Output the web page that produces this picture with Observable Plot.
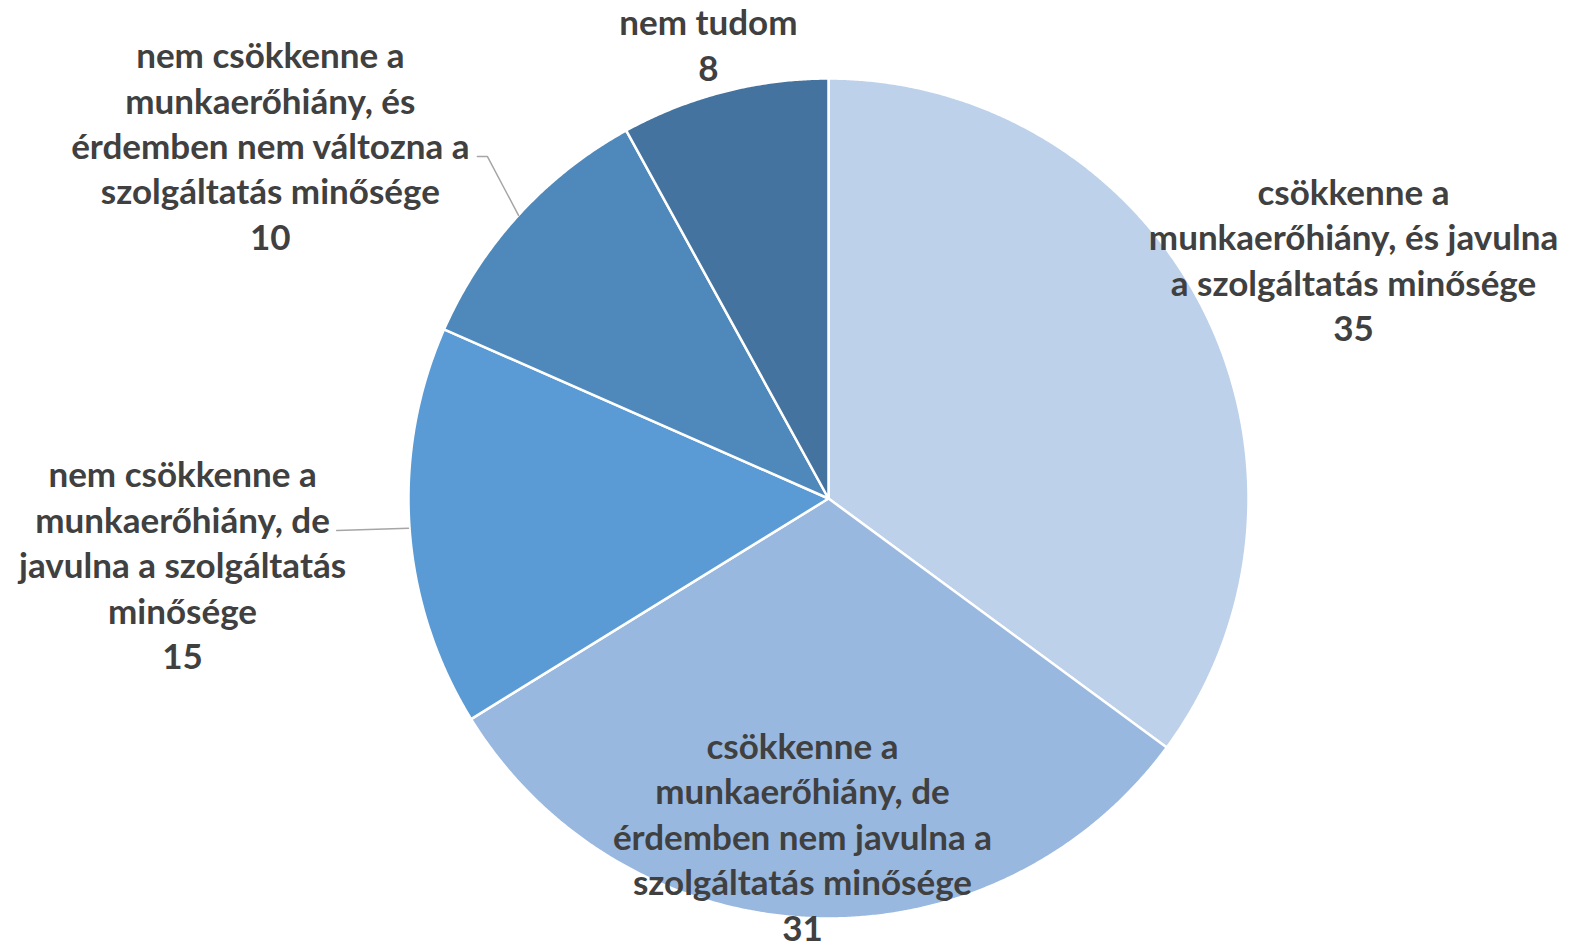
<!DOCTYPE html>
<html><head><meta charset="utf-8">
<script src="https://cdn.jsdelivr.net/npm/d3@7"></script>
<script src="https://cdn.jsdelivr.net/npm/@observablehq/plot@0.6"></script>
<style>body{margin:0;background:#fff}</style>
</head><body><div id="chart"></div>
<script>
const categories = [
  "csökkenne a\nmunkaerőhiány, és javulna\na szolgáltatás minősége",
  "csökkenne a\nmunkaerőhiány, de\nérdemben nem javulna a\nszolgáltatás minősége",
  "nem csökkenne a\nmunkaerőhiány, de\njavulna a szolgáltatás\nminősége",
  "nem csökkenne a\nmunkaerőhiány, és\nérdemben nem változna a\nszolgáltatás minősége",
  "nem tudom"
];
// shares; labels show them rounded
const values = [35.1, 31.1, 15.4, 10.4, 8.0];
const colors = ["#BDD1EA", "#99B8DF", "#5B9BD5", "#4F89BC", "#44739F"];
// label anchor positions (unit-radius coordinates)
const labelX = [1.25, -0.062, -1.538, -1.329, -0.286];
const labelY = [0.572, -0.802, -0.155, 0.843, 1.083];
// leader lines (unit-radius coordinates)
const leaders = [
  {k: 3, pts: [[-0.836, 0.814], [-0.812, 0.814], [-0.738, 0.674]]},
  {k: 2, pts: [[-1.171, -0.076], [-1.0, -0.071]]}
];

const arcs = d3.pie().sort(null).value(d => d)(values);
const slicePts = [];
arcs.forEach((a, i) => {
  slicePts.push({k: i, x: 0, y: 0, color: colors[i]});
  const n = Math.max(2, Math.ceil((a.endAngle - a.startAngle) / 0.005));
  for (let j = 0; j <= n; j++) {
    const t = a.startAngle + (a.endAngle - a.startAngle) * j / n;
    slicePts.push({k: i, x: Math.sin(t), y: Math.cos(t), color: colors[i]});
  }
});
const labels = values.map((v, i) => ({text: categories[i] + "\n" + Math.round(v), x: labelX[i], y: labelY[i]}));
const leaderPts = leaders.flatMap(l => l.pts.map(p => ({k: l.k, x: p[0], y: p[1]})));

const chart = Plot.plot({
  width: 1569, height: 945,
  margin: 0,
  x: {domain: [-1, 1], range: [408, 1248], axis: null},
  y: {domain: [-1, 1], range: [918, 78], axis: null},
  marks: [
    Plot.line(slicePts, {x: "x", y: "y", z: "k", fill: "color", stroke: "white", strokeWidth: 2.5, curve: "linear-closed", strokeLinejoin: "round"}),
    Plot.line(leaderPts, {x: "x", y: "y", z: "k", stroke: "#A6A6A6", strokeWidth: 1.5}),
    Plot.text(labels, {x: "x", y: "y", text: "text", fill: "#404040", fontSize: 35, fontWeight: "bold", fontFamily: "Lato", lineHeight: 1.3, textAnchor: "middle"})
  ]
});
document.getElementById("chart").append(chart);
</script>
</body></html>
